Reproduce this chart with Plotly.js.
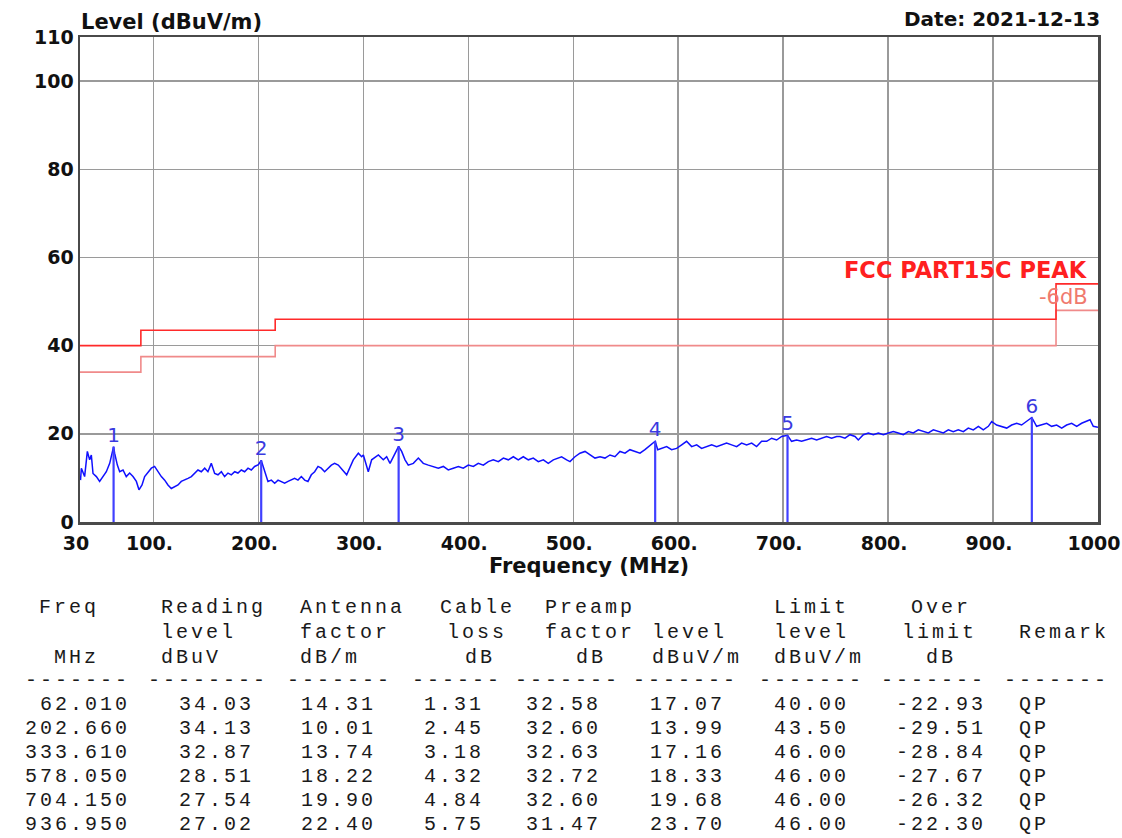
<!DOCTYPE html>
<html>
<head>
<meta charset="utf-8">
<script src="https://cdn.plot.ly/plotly-3.0.1.min.js"></script>
<style>
html,body{margin:0;padding:0;background:#fff;}
#chart{width:1122px;height:838px;}
text.annotation-text[style*="Liberation Mono"]{letter-spacing:3px;}
</style>
</head>
<body>
<div id="chart"></div>
<script>
// ---------------- DATA ----------------
// Scan trace (MHz, dBuV/m)
const traceFreq = [30.5,31.3,34.4,37.0,39.2,40.8,42.4,45.6,48.7,51.9,55.1,58.3,62.01,63.0,65.6,67.8,71.0,74.1,77.3,80.5,83.7,86.2,89.1,91.6,94.8,98.0,101.1,104.3,107.5,110.7,113.8,117.0,120.2,123.4,126.5,129.7,132.9,136.1,139.2,142.4,145.6,148.8,151.9,155.1,158.3,161.5,164.7,167.8,171.0,174.2,177.4,180.5,183.7,186.9,190.1,193.2,196.4,200.0,202.66,205.0,206.8,209.1,212.3,215.5,218.7,221.8,225.0,228.2,231.4,234.5,237.7,240.9,244.1,247.2,250.4,253.6,256.8,259.9,263.1,266.3,269.5,272.6,276.1,284.1,290.4,295.2,298.4,300.0,304.7,307.9,314.3,319.0,322.2,325.4,328.5,333.61,336.5,339.7,342.8,347.6,352.4,357.1,361.9,366.7,371.4,376.2,380.9,385.7,390.5,395.2,400.0,404.8,409.5,414.3,419.1,423.8,428.6,433.4,438.1,442.9,447.6,452.4,457.2,461.9,466.7,471.5,476.2,481.0,485.8,488.9,493.7,496.9,501.6,506.4,511.2,515.9,520.7,525.5,530.2,535.0,539.7,544.5,549.3,554.0,558.8,563.6,568.3,571.5,578.05,580.5,584.2,589.0,593.7,598.5,603.3,608.0,612.8,617.6,622.3,627.1,631.9,636.6,641.4,646.1,650.9,655.7,660.4,665.2,670.0,674.7,679.5,684.3,689.0,693.8,698.6,704.15,708.0,712.8,717.6,722.4,727.1,731.9,736.7,741.4,746.2,751.0,754.2,758.9,763.7,768.5,771.6,776.4,781.2,785.9,790.7,795.5,800.2,805.0,809.7,814.5,819.3,824.0,828.8,833.6,838.3,843.1,847.9,852.6,857.4,862.1,866.9,871.7,876.4,881.2,886.0,890.7,895.5,898.7,903.4,908.2,913.0,917.7,922.5,927.2,932.0,936.95,941.5,946.3,951.1,955.8,960.6,965.4,970.1,974.9,979.7,984.4,989.2,992.4,995.5,1000];
const traceLevel = [9.5,12.2,10.3,16.0,14.1,15.2,11.0,10.3,9.2,10.3,11.4,13.3,17.07,15.6,12.9,11.4,11.8,10.3,11.1,10.3,9.2,7.3,8.4,10.3,11.4,12.2,12.6,11.4,10.3,9.5,8.4,7.6,8.0,8.4,9.2,9.5,9.9,10.3,11.0,11.8,11.4,12.2,11.4,13.3,11.0,10.7,11.4,10.3,11.1,10.7,11.4,11.1,11.8,11.4,12.2,11.8,12.6,13.0,13.99,12.2,10.7,9.2,9.5,8.8,9.5,9.2,8.8,9.2,9.5,9.9,9.5,10.3,9.5,9.2,10.7,11.4,12.6,12.2,11.4,12.2,12.9,13.3,12.9,10.7,14.1,15.6,14.8,15.2,11.4,14.1,15.2,14.1,14.8,13.3,14.8,17.16,16.0,14.1,12.9,13.3,14.5,13.3,12.9,12.6,12.2,12.6,11.8,12.2,12.6,12.2,12.9,12.6,13.3,12.9,13.7,14.1,13.7,14.5,14.1,14.8,14.1,14.8,14.1,14.5,13.7,14.1,13.3,14.1,14.5,14.8,14.1,13.7,14.8,15.6,16.0,15.2,14.5,14.8,14.5,15.2,14.8,16.0,15.6,16.4,16.0,15.6,16.4,17.1,18.33,16.4,16.7,17.1,16.4,16.7,17.5,18.3,17.1,17.5,16.7,17.1,17.5,17.1,17.5,17.9,17.5,17.1,17.9,17.5,17.9,17.1,18.3,18.3,19.0,18.6,19.4,19.68,18.3,18.6,18.3,18.6,19.0,18.6,19.0,19.4,19.0,19.4,19.4,19.0,19.8,19.4,18.6,19.8,20.2,19.8,20.2,19.8,20.2,20.5,20.2,19.8,20.5,20.2,20.9,20.5,20.2,20.9,20.5,20.2,20.9,20.5,20.9,20.5,21.3,20.9,21.7,20.9,21.7,22.8,22.0,21.7,21.3,22.0,22.4,22.0,22.8,23.70,21.7,22.0,22.4,21.7,22.0,21.3,22.0,22.4,21.7,22.4,22.8,23.2,21.7,21.5];

// Limit lines (FCC Part 15C) and the -6 dB line
const limitFreq   = [30, 88, 88, 216, 216, 960, 960, 1000];
const limitLevel  = [40, 40, 43.5, 43.5, 46, 46, 54, 54];
const limit6Level = [34, 34, 37.5, 37.5, 40, 40, 48, 48];

// Marker / table data
const markerNo      = ['1','2','3','4','5','6'];
const freqMHz       = [62.010, 202.660, 333.610, 578.050, 704.150, 936.950];
const readingLevel  = [34.03, 34.13, 32.87, 28.51, 27.54, 27.02];
const antennaFactor = [14.31, 10.01, 13.74, 18.22, 19.90, 22.40];
const cableLoss     = [1.31, 2.45, 3.18, 4.32, 4.84, 5.75];
const preampFactor  = [32.58, 32.60, 32.63, 32.72, 32.60, 31.47];
const emissionLevel = [17.07, 13.99, 17.16, 18.33, 19.68, 23.70];
const limitAtFreq   = [40.00, 43.50, 46.00, 46.00, 46.00, 46.00];
const overLimit     = [-22.93, -29.51, -28.84, -27.67, -26.32, -22.30];
const remark        = ['QP','QP','QP','QP','QP','QP'];

// Axis ticks
const xTickVals = [30,100,200,300,400,500,600,700,800,900,1000];
const xTickText = ['30','100.','200.','300.','400.','500.','600.','700.','800.','900.','1000'];
const yTickVals = [0,20,40,60,80,100,110];
const yTickText = ['0','20','40','60','80','100','110'];

// Table header text
const headRow1 = ['Freq','Reading','Antenna','Cable','Preamp','Limit','Over'];
const headRow2 = ['level','factor','loss','factor','level','level','limit','Remark'];
const headRow3 = ['MHz','dBuV','dB/m','dB','dB','dBuV/m','dBuV/m','dB'];

// ---------------- LAYOUT HELPERS ----------------
const L = 80, T = 37, W = 1018, H = 485;
const px = p => (p - L) / W;
const py = p => (T + H - p) / H;

const headPos1 = [38,160,299,439,544,773,910];
const headPos2 = [160,299,446,544,651,773,901,1018];
const headPos3 = [53,160,299,464,575,651,773,925];
const dashRight = [131,269,393,503,621,739,865,987,1110];
const dashCount = [7,8,7,6,7,7,7,7,7];
const colRight = [131,255,377,485,602,726,850,987];
const remarkLeft = 1018;
const rowY = [704,728,752,776,800,824];

const boldFont = {family:'DejaVu Sans', weight:'bold', color:'#111'};
const monoFont = {family:'Liberation Mono', size:20, color:'#1a1a1a'};

const annotations = [];
function ann(text, x, y, xanchor, font) {
  annotations.push({text, x:px(x), y:py(y), xref:'paper', yref:'paper', xanchor, yanchor:'middle',
    showarrow:false, font, borderpad:0});
}
ann('Level (dBuV/m)', 80, 22, 'left', Object.assign({size:21}, boldFont));
ann('Date: 2021-12-13', 1101, 19, 'right', Object.assign({size:20}, boldFont));
ann('FCC PART15C PEAK', 1089, 270, 'right', {family:'DejaVu Sans', weight:'bold', size:22.5, color:'#ff2020'});
ann('-6dB', 1089, 297, 'right', {family:'DejaVu Sans', size:21, color:'#f07a6e'});

headRow1.forEach((t,i)=>ann(t, headPos1[i], 607, 'left', monoFont));
headRow2.forEach((t,i)=>ann(t, headPos2[i], 632, 'left', monoFont));
headRow3.forEach((t,i)=>ann(t, headPos3[i], 657, 'left', monoFont));
dashRight.forEach((r,i)=>ann('-'.repeat(dashCount[i]), r, 680, 'right', monoFont));

const cols = [
  freqMHz.map(v=>v.toFixed(3)),
  readingLevel.map(v=>v.toFixed(2)),
  antennaFactor.map(v=>v.toFixed(2)),
  cableLoss.map(v=>v.toFixed(2)),
  preampFactor.map(v=>v.toFixed(2)),
  emissionLevel.map(v=>v.toFixed(2)),
  limitAtFreq.map(v=>v.toFixed(2)),
  overLimit.map(v=>v.toFixed(2))
];
cols.forEach((col,c)=>col.forEach((t,r)=>ann(t, colRight[c], rowY[r], 'right', monoFont)));
remark.forEach((t,r)=>ann(t, remarkLeft, rowY[r], 'left', monoFont));

// marker stems built from the marker arrays
const stemX = [], stemY = [];
freqMHz.forEach((f,i)=>{ stemX.push(f, f, null); stemY.push(0, emissionLevel[i], null); });

const traces = [
  {x:limitFreq, y:limit6Level, mode:'lines', line:{color:'#f08a8a', width:1.6}, hoverinfo:'skip'},
  {x:limitFreq, y:limitLevel, mode:'lines', line:{color:'#ff2a2a', width:1.6}, hoverinfo:'skip'},
  {x:traceFreq, y:traceLevel, mode:'lines', line:{color:'#1010ff', width:1.5}},
  {x:stemX, y:stemY, mode:'lines', line:{color:'#4040ff', width:2.2}, hoverinfo:'skip'},
  {x:freqMHz, y:emissionLevel, mode:'text', text:markerNo, textposition:'top center',
   textfont:{family:'DejaVu Sans', size:20, color:'#3a3ae0'}, cliponaxis:false}
];

const axisCommon = {
  showgrid:true, gridcolor:'#9a9a9a', gridwidth:1.5, showline:true, mirror:true,
  linecolor:'#4a4a4a', linewidth:2.5, ticks:'', zeroline:false, automargin:false,
  ticklabeloverflow:'allow',
  tickfont:{family:'DejaVu Sans', weight:'bold', size:19, color:'#111'}
};

const layout = {
  width:1122, height:838,
  margin:{l:L, r:1122-L-W, t:T, b:838-T-H, pad:0},
  paper_bgcolor:'#ffffff', plot_bgcolor:'#ffffff',
  showlegend:false,
  xaxis:Object.assign({}, axisCommon, {range:[30,1000], tickmode:'array', tickvals:xTickVals, ticktext:xTickText,
    ticklabelshift:-4, ticklabelstandoff:3,
    title:{text:'Frequency (MHz)', font:Object.assign({size:21}, boldFont), standoff:2}}),
  yaxis:Object.assign({}, axisCommon, {range:[0,110], tickmode:'array', tickvals:yTickVals, ticktext:yTickText}),
  annotations
};

Plotly.newPlot('chart', traces, layout, {staticPlot:true, displayModeBar:false});
</script>
</body>
</html>
